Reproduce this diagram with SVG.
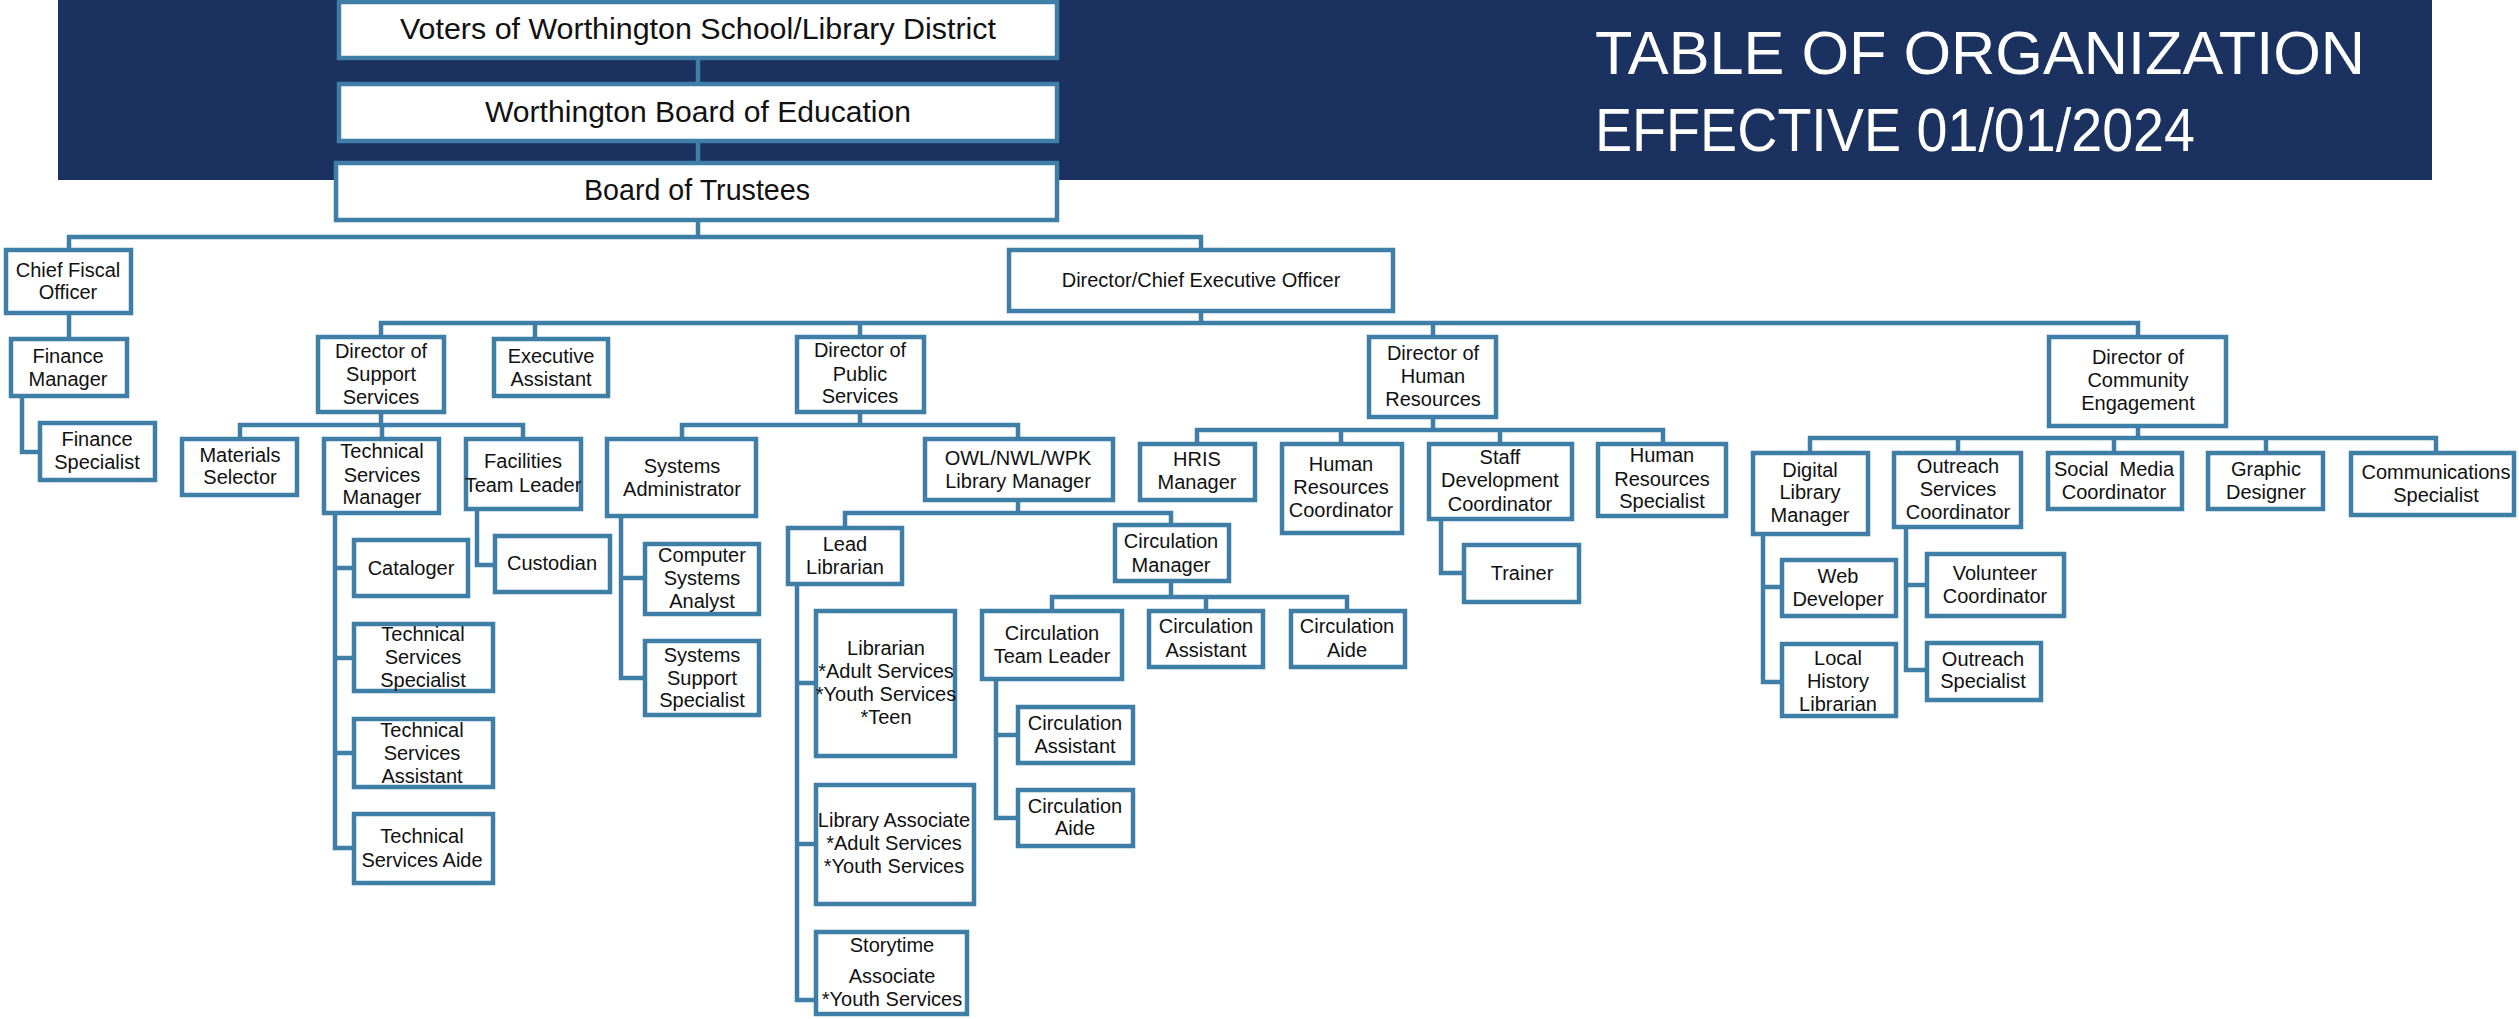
<svg xmlns="http://www.w3.org/2000/svg" width="2519" height="1019" viewBox="0 0 2519 1019">
<style>
.bx{fill:#fff;stroke:#3f7fa7;stroke-width:4.5}
.ln{fill:none;stroke:#3f7fa7;stroke-width:4.5;stroke-linejoin:miter}
text{font-family:"Liberation Sans",Arial,sans-serif;font-size:20px;fill:#111;text-anchor:middle}
.big{font-size:30px}
.ttl{font-size:61px;fill:#fff;text-anchor:start}
</style>
<rect x="58" y="0" width="2374" height="180" fill="#1b3160"/>
<g id="title">
<text class="ttl" x="1595" y="74" textLength="770" lengthAdjust="spacingAndGlyphs">TABLE OF ORGANIZATION</text>
<text class="ttl" x="1595" y="151" textLength="600" lengthAdjust="spacingAndGlyphs">EFFECTIVE 01/01/2024</text>
</g>
<g id="connectors">
<path class="ln" d="M698 60V82M698 143V161M698 222V237"/>
<path class="ln" d="M69 248V237H1201V248"/>
<path class="ln" d="M69 315V337"/>
<path class="ln" d="M22 398V452H38"/>
<path class="ln" d="M1201 313V323"/>
<path class="ln" d="M381 335V323H2138V335M535 323V337M860 323V335M1433 323V335"/>
<path class="ln" d="M381 414V425M240 437V425H523V437M382 425V437"/>
<path class="ln" d="M477 511V565H493"/>
<path class="ln" d="M335 515V848H352M335 568H352M335 658H352M335 753H352"/>
<path class="ln" d="M860 414V425M682 437V425H1018V437"/>
<path class="ln" d="M621 518V678H643M621 578H643"/>
<path class="ln" d="M1018 502V513M845 526V513H1171V523"/>
<path class="ln" d="M797 586V1000H814M797 683H814M797 844H814"/>
<path class="ln" d="M1171 583V597M1052 609V597H1347V609M1206 597V609"/>
<path class="ln" d="M996 681V818H1016M996 735H1016"/>
<path class="ln" d="M1433 419V430M1197 442V430H1663V442M1341 430V442M1500 430V442"/>
<path class="ln" d="M1441 521V573H1462"/>
<path class="ln" d="M2138 428V438M1810 451V438H2436V451M1958 438V451M2114 438V451M2266 438V451"/>
<path class="ln" d="M1763 536V682H1780M1763 587H1780"/>
<path class="ln" d="M1906 529V670H1925M1906 585H1925"/>
</g>
<g id="voters"><rect class="bx" x="339" y="2" width="718" height="56"/><text class="big" x="698" y="39" textLength="596" lengthAdjust="spacingAndGlyphs">Voters of Worthington School/Library District</text></g>
<g id="board-of-education"><rect class="bx" x="339" y="84" width="718" height="57"/><text class="big" x="698" y="122" textLength="426" lengthAdjust="spacingAndGlyphs">Worthington Board of Education</text></g>
<g id="board-of-trustees"><rect class="bx" x="336" y="163" width="721" height="57"/><text class="big" x="697" y="200" textLength="226" lengthAdjust="spacingAndGlyphs">Board of Trustees</text></g>
<g id="cfo"><rect class="bx" x="6" y="250" width="125" height="63"/><text x="68" y="277">Chief Fiscal</text><text x="68" y="299">Officer</text></g>
<g id="dceo"><rect class="bx" x="1009" y="250" width="384" height="61"/><text x="1201" y="287">Director/Chief Executive Officer</text></g>
<g id="finance-manager"><rect class="bx" x="11" y="339" width="116" height="57"/><text x="68" y="363">Finance</text><text x="68" y="386">Manager</text></g>
<g id="finance-specialist"><rect class="bx" x="40" y="423" width="115" height="57"/><text x="97" y="446">Finance</text><text x="97" y="469">Specialist</text></g>
<g id="dir-support"><rect class="bx" x="318" y="337" width="126" height="75"/><text x="381" y="358">Director of</text><text x="381" y="381">Support</text><text x="381" y="404">Services</text></g>
<g id="exec-assistant"><rect class="bx" x="494" y="339" width="114" height="57"/><text x="551" y="363">Executive</text><text x="551" y="386">Assistant</text></g>
<g id="materials-selector"><rect class="bx" x="182" y="439" width="115" height="56"/><text x="240" y="462">Materials</text><text x="240" y="484">Selector</text></g>
<g id="tech-services-manager"><rect class="bx" x="324" y="439" width="115" height="74"/><text x="382" y="458">Technical</text><text x="382" y="482">Services</text><text x="382" y="504">Manager</text></g>
<g id="facilities-team-leader"><rect class="bx" x="466" y="439" width="115" height="70"/><text x="523" y="468">Facilities</text><text x="523" y="492">Team Leader</text></g>
<g id="custodian"><rect class="bx" x="495" y="536" width="115" height="56"/><text x="552" y="570">Custodian</text></g>
<g id="cataloger"><rect class="bx" x="354" y="540" width="114" height="56"/><text x="411" y="575">Cataloger</text></g>
<g id="tech-services-specialist"><rect class="bx" x="354" y="624" width="139" height="67"/><text x="423" y="641">Technical</text><text x="423" y="664">Services</text><text x="423" y="687">Specialist</text></g>
<g id="tech-services-assistant"><rect class="bx" x="354" y="719" width="139" height="68"/><text x="422" y="737">Technical</text><text x="422" y="760">Services</text><text x="422" y="783">Assistant</text></g>
<g id="tech-services-aide"><rect class="bx" x="354" y="814" width="139" height="69"/><text x="422" y="843">Technical</text><text x="422" y="867">Services Aide</text></g>
<g id="dir-public"><rect class="bx" x="797" y="337" width="127" height="75"/><text x="860" y="357">Director of</text><text x="860" y="381">Public</text><text x="860" y="403">Services</text></g>
<g id="systems-admin"><rect class="bx" x="607" y="439" width="149" height="77"/><text x="682" y="473">Systems</text><text x="682" y="496">Administrator</text></g>
<g id="owl-manager"><rect class="bx" x="925" y="439" width="188" height="61"/><text x="1018" y="465">OWL/NWL/WPK</text><text x="1018" y="488">Library Manager</text></g>
<g id="computer-systems-analyst"><rect class="bx" x="645" y="544" width="114" height="70"/><text x="702" y="562">Computer</text><text x="702" y="585">Systems</text><text x="702" y="608">Analyst</text></g>
<g id="systems-support-specialist"><rect class="bx" x="645" y="641" width="114" height="74"/><text x="702" y="662">Systems</text><text x="702" y="685">Support</text><text x="702" y="707">Specialist</text></g>
<g id="lead-librarian"><rect class="bx" x="788" y="528" width="114" height="56"/><text x="845" y="551">Lead</text><text x="845" y="574">Librarian</text></g>
<g id="circulation-manager"><rect class="bx" x="1115" y="525" width="114" height="56"/><text x="1171" y="548">Circulation</text><text x="1171" y="572">Manager</text></g>
<g id="librarian"><rect class="bx" x="816" y="611" width="139" height="145"/><text x="886" y="655">Librarian</text><text x="886" y="678">*Adult Services</text><text x="886" y="701">*Youth Services</text><text x="886" y="724">*Teen</text></g>
<g id="library-associate"><rect class="bx" x="816" y="785" width="158" height="119"/><text x="894" y="827">Library Associate</text><text x="894" y="850">*Adult Services</text><text x="894" y="873">*Youth Services</text></g>
<g id="storytime-associate"><rect class="bx" x="816" y="932" width="151" height="82"/><text x="892" y="952">Storytime</text><text x="892" y="983">Associate</text><text x="892" y="1006">*Youth Services</text></g>
<g id="circulation-team-leader"><rect class="bx" x="982" y="611" width="140" height="68"/><text x="1052" y="640">Circulation</text><text x="1052" y="663">Team Leader</text></g>
<g id="circulation-assistant-1"><rect class="bx" x="1149" y="611" width="114" height="56"/><text x="1206" y="633">Circulation</text><text x="1206" y="657">Assistant</text></g>
<g id="circulation-aide-1"><rect class="bx" x="1291" y="611" width="114" height="56"/><text x="1347" y="633">Circulation</text><text x="1347" y="657">Aide</text></g>
<g id="circulation-assistant-2"><rect class="bx" x="1018" y="707" width="115" height="56"/><text x="1075" y="730">Circulation</text><text x="1075" y="753">Assistant</text></g>
<g id="circulation-aide-2"><rect class="bx" x="1018" y="790" width="115" height="56"/><text x="1075" y="813">Circulation</text><text x="1075" y="835">Aide</text></g>
<g id="dir-hr"><rect class="bx" x="1369" y="337" width="127" height="80"/><text x="1433" y="360">Director of</text><text x="1433" y="383">Human</text><text x="1433" y="406">Resources</text></g>
<g id="hris-manager"><rect class="bx" x="1140" y="444" width="115" height="56"/><text x="1197" y="466">HRIS</text><text x="1197" y="489">Manager</text></g>
<g id="hr-coordinator"><rect class="bx" x="1282" y="444" width="120" height="89"/><text x="1341" y="471">Human</text><text x="1341" y="494">Resources</text><text x="1341" y="517">Coordinator</text></g>
<g id="staff-dev-coordinator"><rect class="bx" x="1429" y="444" width="143" height="75"/><text x="1500" y="464">Staff</text><text x="1500" y="487">Development</text><text x="1500" y="511">Coordinator</text></g>
<g id="hr-specialist"><rect class="bx" x="1598" y="444" width="128" height="72"/><text x="1662" y="462">Human</text><text x="1662" y="486">Resources</text><text x="1662" y="508">Specialist</text></g>
<g id="trainer"><rect class="bx" x="1464" y="545" width="115" height="57"/><text x="1522" y="580">Trainer</text></g>
<g id="dir-community"><rect class="bx" x="2049" y="337" width="177" height="89"/><text x="2138" y="364">Director of</text><text x="2138" y="387">Community</text><text x="2138" y="410">Engagement</text></g>
<g id="digital-library-manager"><rect class="bx" x="1753" y="453" width="115" height="81"/><text x="1810" y="477">Digital</text><text x="1810" y="499">Library</text><text x="1810" y="522">Manager</text></g>
<g id="outreach-services-coordinator"><rect class="bx" x="1894" y="453" width="127" height="74"/><text x="1958" y="473">Outreach</text><text x="1958" y="496">Services</text><text x="1958" y="519">Coordinator</text></g>
<g id="social-media-coordinator"><rect class="bx" x="2048" y="453" width="134" height="56"/><text x="2114" y="476" xml:space="preserve">Social  Media</text><text x="2114" y="499">Coordinator</text></g>
<g id="graphic-designer"><rect class="bx" x="2208" y="453" width="115" height="56"/><text x="2266" y="476">Graphic</text><text x="2266" y="499">Designer</text></g>
<g id="communications-specialist"><rect class="bx" x="2351" y="453" width="163" height="62"/><text x="2436" y="479">Communications</text><text x="2436" y="502">Specialist</text></g>
<g id="web-developer"><rect class="bx" x="1782" y="560" width="114" height="56"/><text x="1838" y="583">Web</text><text x="1838" y="606">Developer</text></g>
<g id="local-history-librarian"><rect class="bx" x="1782" y="644" width="114" height="72"/><text x="1838" y="665">Local</text><text x="1838" y="688">History</text><text x="1838" y="711">Librarian</text></g>
<g id="volunteer-coordinator"><rect class="bx" x="1927" y="554" width="137" height="62"/><text x="1995" y="580">Volunteer</text><text x="1995" y="603">Coordinator</text></g>
<g id="outreach-specialist"><rect class="bx" x="1927" y="643" width="114" height="57"/><text x="1983" y="666">Outreach</text><text x="1983" y="688">Specialist</text></g>
</svg>
